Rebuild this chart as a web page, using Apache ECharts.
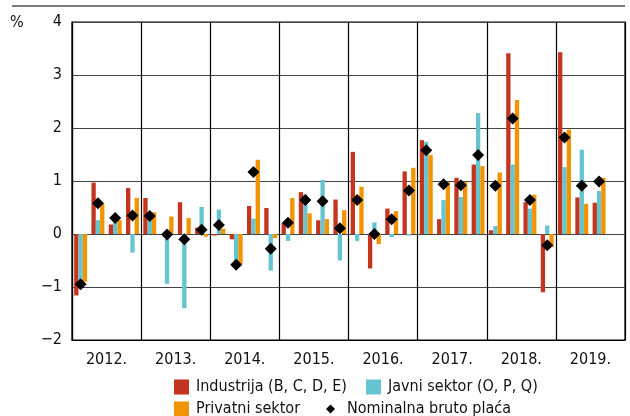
<!DOCTYPE html>
<html>
<head>
<meta charset="utf-8">
<script src="https://cdn.jsdelivr.net/npm/echarts@6/dist/echarts.min.js"></script>
<style>
html,body{margin:0;padding:0;background:#fff;}
#c{width:630px;height:416px;}
</style>
</head>
<body>
<div id="c"></div>
<script>
var years = ['2012.', '2013.', '2014.', '2015.', '2016.', '2017.', '2018.', '2019.'];
var quarters = ['Q1', 'Q2', 'Q3', 'Q4'];
var yTicks = [-2, -1, 0, 1, 2, 3, 4];

var industrija = [-1.16, 0.97, 0.18, 0.87, 0.68, -0.01, 0.60, 0.12, -0.03, -0.10, 0.53, 0.49, 0.21, 0.79, 0.26, 0.65, 1.55, -0.65, 0.48, 1.18, 1.77, 0.28, 1.06, 1.31, 0.07, 3.41, 0.60, -1.10, 3.43, 0.69, 0.59, null];
var javni = [-0.93, 0.26, 0.21, -0.35, 0.30, -0.94, -1.40, 0.51, 0.46, -0.57, 0.29, -0.69, -0.13, 0.74, 1.02, -0.50, -0.13, 0.22, -0.06, -0.03, 1.74, 0.64, 0.70, 2.28, 0.15, 1.31, 0.48, 0.16, 1.26, 1.59, 0.81, null];
var privatni = [-0.90, 0.58, 0.26, 0.68, 0.41, 0.33, 0.30, -0.05, 0.10, -0.57, 1.40, -0.08, 0.68, 0.39, 0.28, 0.45, 0.89, -0.19, 0.43, 1.25, 1.49, 0.98, 0.98, 1.28, 1.16, 2.53, 0.74, -0.25, 1.97, 0.57, 1.06, null];
var nominalna = [-0.95, 0.58, 0.30, 0.35, 0.34, -0.01, -0.10, 0.08, 0.17, -0.58, 1.17, -0.28, 0.21, 0.64, 0.62, 0.11, 0.64, 0.00, 0.28, 0.82, 1.58, 0.94, 0.92, 1.49, 0.91, 2.18, 0.64, -0.21, 1.82, 0.91, 0.99, null];

var names = ['Industrija (B, C, D, E)', 'Javni sektor (O, P, Q)', 'Privatni sektor', 'Nominalna bruto plaća'];

var qCats = [];
years.forEach(function (y) { quarters.forEach(function (q) { qCats.push(y + ' ' + q); }); });

var FONT = '"Liberation Sans Narrow", "DejaVu Sans Condensed", "Liberation Sans", sans-serif';
var chart = echarts.init(document.getElementById('c'), null, {renderer: 'canvas'});

function legendItem(name, left, top, icon, w, h, pad) {
  return {
    data: [{name: name, icon: icon}],
    left: left, top: top,
    orient: 'horizontal',
    itemWidth: w, itemHeight: h,
    padding: 0,
    selectedMode: false,
    textStyle: {fontFamily: FONT, fontSize: 16, color: '#111', padding: [0, 0, 0, pad]}
  };
}

var option = {
  animation: false,
  backgroundColor: '#fff',
  grid: {left: 72, right: 5, top: 22, bottom: 76, show: true, borderColor: '#000', borderWidth: 1.2, backgroundColor: 'transparent'},
  graphic: [
    {type: 'line', shape: {x1: 12, y1: 6, x2: 625, y2: 6}, style: {stroke: '#7a7a7a', lineWidth: 2}},
    {type: 'text', left: 10, top: 15, style: {text: '%', font: '16px ' + FONT, fill: '#111'}}
  ],
  legend: [
    legendItem(names[0], 174, 379, 'rect', 15, 15, 2),
    legendItem(names[1], 366, 379, 'rect', 15, 15, 2),
    legendItem(names[2], 174, 401, 'rect', 15, 15, 2),
    legendItem(names[3], 326, 401, 'diamond', 9, 9, 7)
  ],
  xAxis: [
    {
      type: 'category', data: qCats, gridIndex: 0,
      axisLine: {show: false}, axisTick: {show: false}, axisLabel: {show: false}, splitLine: {show: false}
    },
    {
      type: 'category', data: years, gridIndex: 0, position: 'bottom',
      axisLine: {show: true, lineStyle: {color: '#000', width: 1.2}},
      axisTick: {show: false},
      axisLabel: {fontFamily: FONT, fontSize: 16, color: '#111', margin: 12},
      splitLine: {show: true, lineStyle: {color: '#000', width: 1.2}}
    }
  ],
  yAxis: {
    type: 'value', min: yTicks[0], max: yTicks[yTicks.length - 1], interval: 1,
    axisLine: {show: true, lineStyle: {color: '#000', width: 1.2}},
    axisTick: {show: false},
    axisLabel: {
      fontFamily: FONT, fontSize: 16, color: '#111', margin: 10,
      formatter: function (v) { return v < 0 ? '\u2212' + Math.abs(v) : String(v); }
    },
    splitLine: {show: true, lineStyle: {color: '#444', width: 1.2}}
  },
  series: [
    {name: names[0], type: 'bar', xAxisIndex: 0, data: industrija, barGap: '0%', barCategoryGap: '25%',
      itemStyle: {color: '#c4351f'}},
    {name: names[1], type: 'bar', xAxisIndex: 0, data: javni, barGap: '0%', barCategoryGap: '25%',
      itemStyle: {color: '#66c4d0'}},
    {name: names[2], type: 'bar', xAxisIndex: 0, data: privatni, barGap: '0%', barCategoryGap: '25%',
      itemStyle: {color: '#f29400'}},
    {name: names[3], type: 'scatter', xAxisIndex: 0, data: nominalna, symbol: 'diamond', symbolSize: 12,
      itemStyle: {color: '#000', opacity: 1}, z: 5}
  ]
};
chart.setOption(option);
</script>
</body>
</html>
